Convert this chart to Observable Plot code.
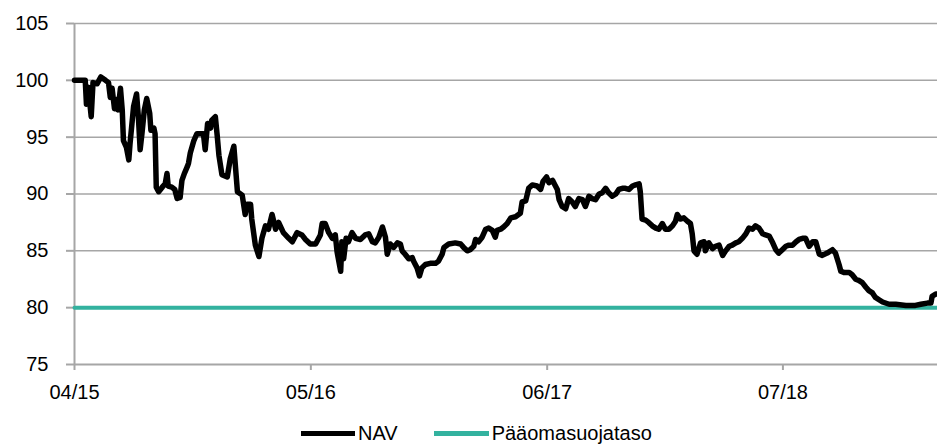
<!DOCTYPE html>
<html>
<head>
<meta charset="utf-8">
<script src="https://cdn.jsdelivr.net/npm/d3@7"></script>
<script src="https://cdn.jsdelivr.net/npm/@observablehq/plot@0.6"></script>
<style>
  html, body { margin: 0; padding: 0; background: #fff; }
  #wrap { position: relative; width: 937px; height: 445px; font-family: "Liberation Sans", Arial, sans-serif; }
  #legend { position: absolute; top: 421px; left: 0; width: 937px; height: 24px; display: flex; align-items: center; padding-left: 301px; box-sizing: border-box; font-size: 20px; color: #000; }
  .item { display: flex; align-items: center; margin-right: 36px; }
  .swatch { height: 5px; margin-right: 3px; }
</style>
</head>
<body>
<div id="wrap">
  <div id="chart"></div>
  <div id="legend"></div>
</div>
<script>
// ---- data ----
const navDates = [
  "2015-04-01","2015-04-19","2015-04-21","2015-04-24","2015-04-29","2015-05-02","2015-05-09","2015-05-15","2015-05-23","2015-05-28",
  "2015-05-31","2015-06-03","2015-06-07","2015-06-11","2015-06-13","2015-06-17","2015-06-20","2015-06-22","2015-06-27","2015-07-01",
  "2015-07-03","2015-07-09","2015-07-14","2015-07-17","2015-07-20","2015-07-23","2015-07-27","2015-07-31","2015-08-05","2015-08-07",
  "2015-08-12","2015-08-14","2015-08-16","2015-08-20","2015-08-26","2015-08-31","2015-09-03","2015-09-05","2015-09-11","2015-09-16",
  "2015-09-20","2015-09-25","2015-09-28","2015-10-02","2015-10-07","2015-10-09","2015-10-12","2015-10-18","2015-10-23","2015-11-03",
  "2015-11-06","2015-11-10","2015-11-15","2015-11-17","2015-11-23","2015-11-26","2015-11-29","2015-12-04","2015-12-13","2015-12-18",
  "2015-12-24","2015-12-30","2016-01-07","2016-01-12","2016-01-15","2016-01-21","2016-01-23","2016-01-29","2016-02-04","2016-02-09",
  "2016-02-15","2016-02-20","2016-02-26","2016-03-03","2016-03-08","2016-03-16","2016-03-25","2016-03-31","2016-04-08","2016-04-16",
  "2016-04-22","2016-04-30","2016-05-09","2016-05-17","2016-05-20","2016-05-25","2016-05-31","2016-06-06","2016-06-11","2016-06-14",
  "2016-06-20","2016-06-22","2016-06-25","2016-06-29","2016-07-03","2016-07-09","2016-07-15","2016-07-23","2016-07-31","2016-08-06",
  "2016-08-12","2016-08-17","2016-08-23","2016-08-29","2016-09-03","2016-09-06","2016-09-11","2016-09-17","2016-09-23","2016-09-28",
  "2016-10-01","2016-10-06","2016-10-12","2016-10-18","2016-10-20","2016-10-26","2016-10-30","2016-11-03","2016-11-09","2016-11-17",
  "2016-11-26","2016-12-01","2016-12-07","2016-12-10","2016-12-18","2016-12-29","2017-01-07","2017-01-12","2017-01-18","2017-01-23",
  "2017-01-29","2017-02-01","2017-02-06","2017-02-12","2017-02-18","2017-02-23","2017-03-01","2017-03-06","2017-03-09","2017-03-15",
  "2017-03-20","2017-03-26","2017-04-01","2017-04-09","2017-04-17","2017-04-20","2017-04-26","2017-05-01","2017-05-07","2017-05-15",
  "2017-05-21","2017-05-25","2017-05-31","2017-06-04","2017-06-10","2017-06-14","2017-06-18","2017-06-21","2017-06-26","2017-07-02",
  "2017-07-07","2017-07-13","2017-07-18","2017-07-24","2017-07-30","2017-08-04","2017-08-10","2017-08-15","2017-08-21","2017-08-27",
  "2017-09-01","2017-09-07","2017-09-12","2017-09-18","2017-09-24","2017-09-29","2017-10-05","2017-10-10","2017-10-16","2017-10-22",
  "2017-10-27","2017-11-02","2017-11-04","2017-11-07","2017-11-13","2017-11-18","2017-11-24","2017-11-30","2017-12-05","2017-12-11",
  "2017-12-16","2017-12-22","2017-12-28","2018-01-02","2018-01-05","2018-01-10","2018-01-16","2018-01-22","2018-01-27","2018-01-30",
  "2018-02-02","2018-02-07","2018-02-13","2018-02-19","2018-02-21","2018-02-27","2018-03-05","2018-03-10","2018-03-16","2018-03-22",
  "2018-03-27","2018-04-02","2018-04-07","2018-04-13","2018-04-18","2018-04-24","2018-04-30","2018-05-05","2018-05-11","2018-05-16",
  "2018-05-22","2018-05-28","2018-06-02","2018-06-08","2018-06-13","2018-06-19","2018-06-24","2018-06-30","2018-07-06","2018-07-11",
  "2018-07-17","2018-07-23","2018-07-28","2018-08-03","2018-08-08","2018-08-14","2018-08-20","2018-08-25","2018-08-31","2018-09-05",
  "2018-09-13","2018-09-22","2018-09-27","2018-10-03","2018-10-06","2018-10-11","2018-10-20","2018-10-25","2018-10-31","2018-11-05",
  "2018-11-11","2018-11-17","2018-11-22","2018-11-28","2018-12-03","2018-12-09","2018-12-15","2018-12-26","2019-01-06","2019-01-23",
  "2019-02-08","2019-02-17","2019-02-28","2019-03-06","2019-03-08","2019-03-14","2019-03-17"
];
const navValues = [
  100, 100, 97.9, 99.4, 96.8, 99.8, 99.7, 100.3, 100, 99.8,
  98.5, 99.3, 97.5, 98.3, 97.4, 99.3, 97.4, 94.7, 94.1, 93.0,
  94.4, 97.7, 98.8, 96.8, 93.9, 95.3, 97.4, 98.4, 97.1, 95.6,
  95.8, 95.3, 90.6, 90.2, 90.6, 90.9, 91.8, 90.7, 90.6, 90.4,
  89.6, 89.7, 91.2, 91.8, 92.4, 92.7, 93.6, 94.7, 95.3, 95.3,
  93.9, 96.2, 95.8, 96.5, 96.8, 95.2, 93.4, 91.7, 91.5, 93.1,
  94.2, 90.2, 89.9, 88.2, 89.1, 89.1, 87.8, 85.5, 84.5, 86.1,
  87.2, 86.9, 88.2, 86.9, 87.5, 86.6, 86.1, 85.8, 86.6, 86.4,
  86.0, 85.6, 85.6, 86.4, 87.4, 87.4, 86.6, 86.1, 86.4, 84.9,
  83.2, 85.8, 84.3, 86.1, 85.8, 86.6, 86.1, 86.0, 86.4, 86.5,
  85.8, 85.7, 86.2, 87.1, 86.2, 84.7, 85.6, 85.3, 85.7, 85.6,
  85.0, 84.7, 84.3, 84.4, 84.1, 83.5, 82.8, 83.5, 83.8, 83.9,
  83.9, 84.1, 84.7, 85.3, 85.6, 85.7, 85.6, 85.3, 85.0, 85.1,
  85.4, 86.0, 85.8, 86.2, 86.9, 87.0, 86.8, 86.2, 86.8, 86.9,
  87.1, 87.4, 87.9, 88.0, 88.3, 89.3, 89.4, 90.5, 90.8, 90.7,
  90.4, 91.1, 91.5, 91.0, 91.2, 90.8, 90.4, 89.5, 88.9, 88.7,
  89.6, 89.3, 88.9, 89.6, 89.5, 88.9, 89.8, 89.6, 89.5, 90.0,
  90.1, 90.5, 90.1, 89.8, 90.0, 90.4, 90.5, 90.5, 90.4, 90.7,
  90.8, 90.9, 90.2, 87.8, 87.7, 87.5, 87.2, 87.0, 86.9, 87.4,
  86.9, 86.9, 87.2, 87.6, 88.2, 87.8, 87.9, 87.6, 87.4, 86.5,
  85.0, 84.7, 85.7, 85.8, 85.0, 85.7, 85.2, 85.4, 85.5, 84.6,
  85.0, 85.4, 85.5, 85.7, 85.8, 86.1, 86.5, 87.0, 86.9, 87.2,
  87.0, 86.5, 86.4, 86.3, 85.8, 85.1, 84.8, 85.1, 85.4, 85.5,
  85.5, 85.8, 86.0, 86.1, 86.1, 85.4, 85.8, 85.8, 84.7, 84.6,
  84.8, 85.1, 84.8, 83.8, 83.2, 83.1, 83.1, 82.9, 82.5, 82.4,
  82.2, 81.8, 81.5, 81.3, 80.9, 80.7, 80.5, 80.3, 80.3, 80.2,
  80.2, 80.3, 80.4, 80.4, 81.0, 81.2, 81.2
];
const protectionDates = ["2015-04-01", "2019-03-17"];
const protectionValues = [80, 80];

const seriesNames = ["NAV", "Pääomasuojataso"];
const seriesColors = ["#000000", "#33b29f"];

const xDomainDates = ["2015-04-01", "2019-03-17"];
const xTickDates = ["2015-04-01", "2016-05-01", "2017-06-01", "2018-07-01"];
const xTickLabels = ["04/15", "05/16", "06/17", "07/18"];
const yDomain = [75, 105];
const yTicks = [75, 80, 85, 90, 95, 100, 105];

// ---- build tables ----
const parse = d3.utcParse("%Y-%m-%d");
const nav = navDates.map((d, i) => ({date: parse(d), value: navValues[i]}));
const protection = protectionDates.map((d, i) => ({date: parse(d), value: protectionValues[i]}));
const xTicks = xTickDates.map(parse);
const labelOf = new Map(xTicks.map((d, i) => [+d, xTickLabels[i]]));
const gridColor = "#a6a6a6";

const chart = Plot.plot({
  width: 937,
  height: 400,
  marginLeft: 74,
  marginRight: 0,
  marginTop: 23,
  marginBottom: 36,
  style: {fontFamily: "'Liberation Sans', Arial, sans-serif", fontSize: "20px", color: "#000", background: "#fff", overflow: "visible"},
  x: {type: "utc", domain: xDomainDates.map(parse)},
  y: {domain: yDomain},
  marks: [
    Plot.ruleY(yTicks.filter(v => v > yDomain[0]), {stroke: gridColor, strokeWidth: 1.5}),
    Plot.ruleY([yDomain[0]], {stroke: gridColor, strokeWidth: 2}),
    Plot.ruleX([parse(xDomainDates[0])], {stroke: gridColor, strokeWidth: 2}),
    Plot.axisY({ticks: yTicks, tickSize: 8, tickPadding: 18, stroke: gridColor, strokeWidth: 2, fill: "#000", label: null}),
    Plot.axisX({ticks: xTicks, tickSize: 6, tickPadding: 14, stroke: gridColor, strokeWidth: 2, fill: "#000", label: null,
                tickFormat: d => labelOf.get(+d)}),
    Plot.line(protection, {x: "date", y: "value", stroke: seriesColors[1], strokeWidth: 4}),
    Plot.line(nav, {x: "date", y: "value", stroke: seriesColors[0], strokeWidth: 5.5, strokeLinejoin: "round", strokeLinecap: "round"})
  ]
});
document.getElementById("chart").appendChild(chart);

// ---- legend ----
const legend = document.getElementById("legend");
const swatchWidths = [54, 55];
seriesNames.forEach((name, i) => {
  const item = document.createElement("div");
  item.className = "item";
  const sw = document.createElement("span");
  sw.className = "swatch";
  sw.style.width = swatchWidths[i] + "px";
  sw.style.background = seriesColors[i];
  const tx = document.createElement("span");
  tx.textContent = name;
  item.appendChild(sw);
  item.appendChild(tx);
  legend.appendChild(item);
});
</script>
</body>
</html>
